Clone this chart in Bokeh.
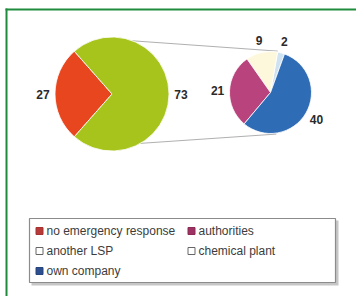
import numpy as np
from bokeh.plotting import figure
from bokeh.models import Range1d, ColumnDataSource
from bokeh.core.properties import value
from bokeh.embed import file_html
from bokeh.resources import INLINE

# ---------------- data ----------------
main_labels = ["no emergency response", "emergency response"]
main_values = [27, 73]
main_colors = ["#e8461e", "#a7c41c"]

sub_labels = ["chemical plant", "another LSP", "authorities", "own company"]
sub_values = [2, 9, 21, 40]
sub_colors = ["#cfe2f2", "#fdf8dc", "#b9437c", "#2f6cb6"]

legend_labels = ["no emergency response", "authorities", "another LSP",
                 "chemical plant", "own company"]
legend_fill = ["#b83a38", "#9e3262", "#ffffff", "#ffffff", "#2d4f8f"]
legend_line = ["#a33230", "#8a2a55", "#666666", "#666666", "#26457d"]

# ---------------- layout helpers ----------------
W, H = 356, 296
def Y(sy):
    return H - sy

FONT = value("Liberation Sans")

p = figure(width=W, height=H, output_backend="svg", toolbar_location=None,
           x_range=Range1d(0, W), y_range=Range1d(0, H), min_border=0)
p.axis.visible = False
p.grid.visible = False
p.outline_line_color = None
p.background_fill_color = "white"

# green frame (left + top)
p.segment(x0=[6, 5], y0=[Y(8), Y(9)], x1=[6, 360], y1=[Y(300), Y(9)],
          line_color="#1e8c3c", line_width=2)

def pie(values, colors, cx, cy, r, start0):
    v = np.array(values, dtype=float)
    frac = v / v.sum()
    ends = start0 + 2 * np.pi * np.cumsum(frac)
    starts = ends - 2 * np.pi * frac
    src = ColumnDataSource(dict(start=starts, end=ends, color=colors))
    p.wedge(x=cx, y=cy, radius=r, start_angle="start", end_angle="end",
            fill_color="color", line_color="white", line_width=0.8, source=src)
    mids = (starts + ends) / 2
    rl = r + 12
    lsrc = ColumnDataSource(dict(x=cx + rl * np.cos(mids), y=cy + rl * np.sin(mids),
                                 t=[str(int(x)) for x in values]))
    p.text(x="x", y="y", text="t", source=lsrc, text_font=FONT,
           text_font_size="12px", text_font_style="bold", text_color="#2a2a2a",
           text_align="center", text_baseline="middle")

# main pie: first slice centred on the left side
cx1, cy1, r1 = 111.5, Y(93.5), 57
start1 = np.pi - np.pi * main_values[0] / sum(main_values)
# secondary pie
cx2, cy2, r2 = 270, Y(92), 41
start2 = np.deg2rad(70)

# connector lines
a_big = np.deg2rad([69, -60])
a_small = np.deg2rad([80, -82])
p.segment(x0=cx1 + r1 * np.cos(a_big), y0=cy1 + r1 * np.sin(a_big),
          x1=cx2 + (r2 + 1) * np.cos(a_small), y1=cy2 + (r2 + 1) * np.sin(a_small),
          line_color="#b0b0b0", line_width=1)

pie(main_values, main_colors, cx1, cy1, r1, start1)
pie(sub_values, sub_colors, cx2, cy2, r2, start2)

# legend box with shadow
lb_l, lb_r, lb_t, lb_b = 29, 335, 218, 282
p.quad(left=lb_l + 2, right=lb_r + 3, top=Y(lb_t + 2), bottom=Y(lb_b + 3),
       fill_color="#c6c6c6", line_color=None)
p.quad(left=lb_l, right=lb_r, top=Y(lb_t), bottom=Y(lb_b),
       fill_color="white", line_color="#8c8c8c", line_width=1.2)

col_x = [39, 191]
row_y = [230.5, 250.5, 270.5]
idx = np.arange(len(legend_labels))
mx = np.array([col_x[i % 2] for i in idx], dtype=float)
my = np.array([Y(row_y[i // 2]) for i in idx], dtype=float)
lsrc = ColumnDataSource(dict(x=mx, y=my, fill=legend_fill, line=legend_line,
                             tx=mx + 7, t=legend_labels))
p.rect(x="x", y="y", width=7, height=7, fill_color="fill", line_color="line",
       line_width=1, source=lsrc)
p.text(x="tx", y="y", text="t", source=lsrc, text_font=FONT,
       text_font_size="12px", text_color="#3c3c3c",
       text_align="left", text_baseline="middle")

open("out.html", "w").write(file_html(p, INLINE))
